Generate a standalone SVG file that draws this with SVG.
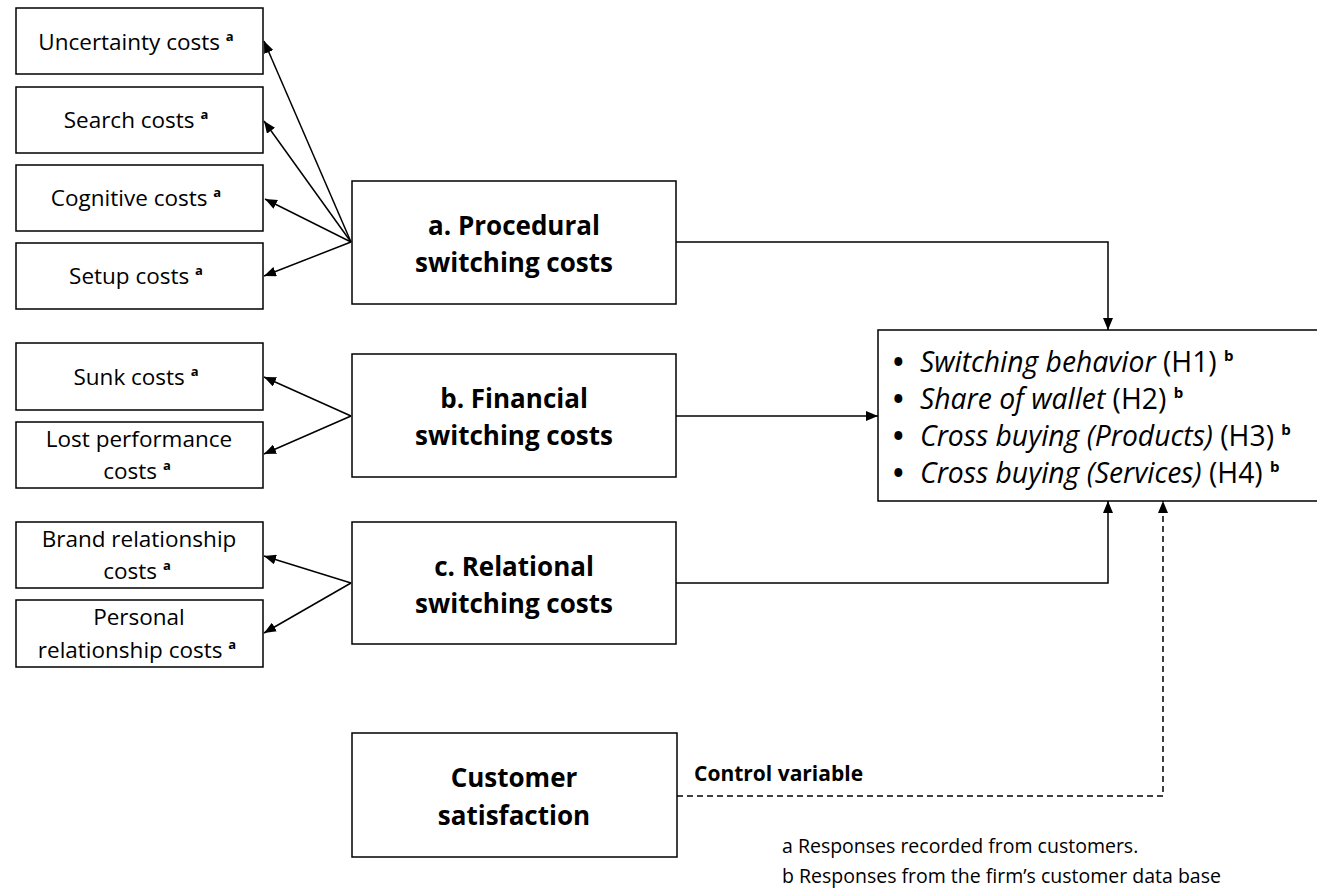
<svg xmlns="http://www.w3.org/2000/svg" width="1317" height="893" viewBox="0 0 1317 893">
<style>
.box{fill:#fff;stroke:#000;stroke-width:1.5}
.t{font-family:"Open Sans","Liberation Sans",sans-serif;font-size:22.5px;fill:#000;text-anchor:middle}
.tb{font-family:"Open Sans","Liberation Sans",sans-serif;font-size:26px;font-weight:bold;fill:#000;text-anchor:middle}
.o{font-family:"Open Sans","Liberation Sans",sans-serif;font-size:28.3px;fill:#000}
.bul{font-weight:bold}
.n{font-family:"Open Sans","Liberation Sans",sans-serif;font-size:19.5px;fill:#000}
.sup{font-size:13px;font-weight:bold}
.osup{font-size:15px;font-weight:bold}
.ln{fill:none;stroke:#000;stroke-width:1.5}
.dash{fill:none;stroke:#000;stroke-width:1.5;stroke-dasharray:6 4}
</style>
<defs>
<marker id="ah" markerWidth="12" markerHeight="10" refX="12" refY="5" orient="auto" markerUnits="userSpaceOnUse">
<path d="M0,0 L12,5 L0,10 z" fill="#000"/>
</marker>
</defs>
<rect width="1317" height="893" fill="#fff"/>

<g id="uncertainty">
<rect class="box" x="16" y="8" width="247" height="66"/>
<text class="t" x="136" y="50">Uncertainty costs <tspan class="sup" dy="-9">a</tspan></text>
</g>
<g id="search">
<rect class="box" x="16" y="87" width="247" height="66"/>
<text class="t" x="136" y="128">Search costs <tspan class="sup" dy="-9">a</tspan></text>
</g>
<g id="cognitive">
<rect class="box" x="16" y="165" width="247" height="66"/>
<text class="t" x="136" y="206">Cognitive costs <tspan class="sup" dy="-9">a</tspan></text>
</g>
<g id="setup">
<rect class="box" x="16" y="243" width="247" height="66"/>
<text class="t" x="136" y="284">Setup costs <tspan class="sup" dy="-9">a</tspan></text>
</g>
<g id="sunk">
<rect class="box" x="16" y="343" width="247" height="67"/>
<text class="t" x="136" y="385">Sunk costs <tspan class="sup" dy="-9">a</tspan></text>
</g>
<g id="lost">
<rect class="box" x="16" y="422" width="247" height="66"/>
<text class="t" x="139" y="447">Lost performance</text>
<text class="t" x="137" y="479">costs <tspan class="sup" dy="-9">a</tspan></text>
</g>
<g id="brand">
<rect class="box" x="16" y="522" width="247" height="66"/>
<text class="t" x="139" y="547">Brand relationship</text>
<text class="t" x="137" y="579">costs <tspan class="sup" dy="-9">a</tspan></text>
</g>
<g id="personal">
<rect class="box" x="16" y="600" width="247" height="67"/>
<text class="t" x="139" y="625">Personal</text>
<text class="t" x="137" y="658">relationship costs <tspan class="sup" dy="-9">a</tspan></text>
</g>

<g id="procedural">
<rect class="box" x="352" y="181" width="324" height="123"/>
<text class="tb" x="514" y="235">a. Procedural</text>
<text class="tb" x="514" y="272">switching costs</text>
</g>
<g id="financial">
<rect class="box" x="352" y="354" width="324" height="123"/>
<text class="tb" x="514" y="408">b. Financial</text>
<text class="tb" x="514" y="445">switching costs</text>
</g>
<g id="relational">
<rect class="box" x="352" y="522" width="324" height="122"/>
<text class="tb" x="514" y="576">c. Relational</text>
<text class="tb" x="514" y="613">switching costs</text>
</g>
<g id="satisfaction">
<rect class="box" x="352" y="733" width="325" height="124"/>
<text class="tb" x="514" y="787">Customer</text>
<text class="tb" x="514" y="825">satisfaction</text>
</g>

<g id="outcomes">
<path class="box" d="M1320,330 H878 V501 H1320"/>
<text class="o" x="893" y="372"><tspan class="bul">•</tspan><tspan x="920" font-style="italic">Switching behavior</tspan> (H1) <tspan class="osup" dy="-11">b</tspan></text>
<text class="o" x="893" y="409"><tspan class="bul">•</tspan><tspan x="920" font-style="italic">Share of wallet</tspan> (H2) <tspan class="osup" dy="-11">b</tspan></text>
<text class="o" x="893" y="446"><tspan class="bul">•</tspan><tspan x="920" font-style="italic">Cross buying (Products)</tspan> (H3) <tspan class="osup" dy="-11">b</tspan></text>
<text class="o" x="893" y="483"><tspan class="bul">•</tspan><tspan x="920" font-style="italic">Cross buying (Services)</tspan> (H4) <tspan class="osup" dy="-11">b</tspan></text>
</g>

<g id="connectors">
<line class="ln" x1="351" y1="242" x2="264" y2="41" marker-end="url(#ah)"/>
<line class="ln" x1="351" y1="242" x2="264" y2="121" marker-end="url(#ah)"/>
<line class="ln" x1="351" y1="242" x2="265" y2="199" marker-end="url(#ah)"/>
<line class="ln" x1="351" y1="242" x2="264" y2="276" marker-end="url(#ah)"/>
<line class="ln" x1="351" y1="416" x2="264" y2="377" marker-end="url(#ah)"/>
<line class="ln" x1="351" y1="416" x2="264" y2="454" marker-end="url(#ah)"/>
<line class="ln" x1="351" y1="583" x2="264" y2="556" marker-end="url(#ah)"/>
<line class="ln" x1="351" y1="583" x2="264" y2="633" marker-end="url(#ah)"/>
<path class="ln" d="M676,242 H1108 V330" marker-end="url(#ah)"/>
<path class="ln" d="M676,416 H878" marker-end="url(#ah)"/>
<path class="ln" d="M676,583 H1108 V501" marker-end="url(#ah)"/>
<path class="dash" d="M677,796 H1163 V501" marker-end="url(#ah)"/>
<text x="694" y="781" font-family="Open Sans, Liberation Sans, sans-serif" font-size="21" font-weight="bold">Control variable</text>
</g>

<g id="notes">
<text class="n" x="782" y="853">a Responses recorded from customers.</text>
<text class="n" x="782" y="883">b Responses from the firm’s customer data base</text>
</g>
</svg>
